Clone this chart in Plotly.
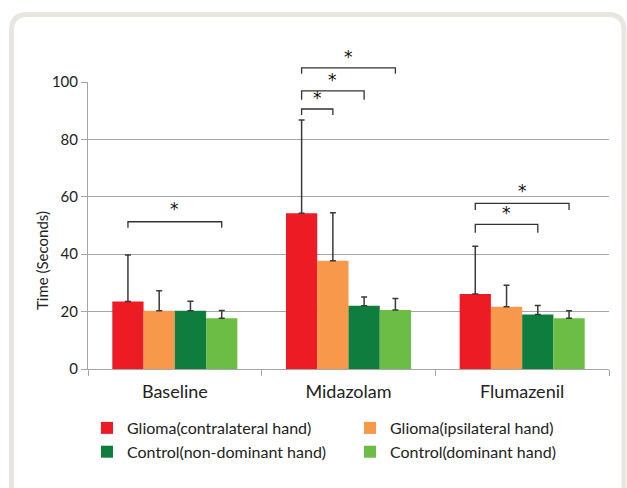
import plotly.graph_objects as go

# ---------------- data ----------------
categories = ["Baseline", "Midazolam", "Flumazenil"]
series_names = [
    "Glioma(contralateral hand)",
    "Glioma(ipsilateral hand)",
    "Control(non-dominant hand)",
    "Control(dominant hand)",
]
series_colors = ["#ED1C24", "#F7984A", "#0E7D3E", "#6CBD45"]
glioma_contra = [23.5, 54.3, 26.1]
glioma_ipsi = [20.3, 37.7, 21.7]
control_nondom = [20.3, 22.0, 19.0]
control_dom = [17.7, 20.6, 17.7]
sd_glioma_contra = [16.2, 32.5, 16.7]
sd_glioma_ipsi = [7.0, 16.7, 7.5]
sd_control_nondom = [3.3, 3.1, 3.1]
sd_control_dom = [2.7, 4.0, 2.6]
y_ticks = [0, 20, 40, 60, 80, 100]
y_title = "Time (Seconds)"

# significance brackets: (category index, from series, to series, bracket level, leg level, star level)
brackets = [
    (0, 0, 3, 51.3, 49.2, 56.9),
    (1, 0, 1, 90.6, 88.5, 95.4),
    (1, 0, 2, 96.9, 93.8, 101.7),
    (1, 0, 3, 104.9, 102.9, 109.9),
    (2, 0, 2, 50.4, 47.5, 55.4),
    (2, 0, 3, 57.7, 55.4, 62.9),
]

values = [glioma_contra, glioma_ipsi, control_nondom, control_dom]
errors = [sd_glioma_contra, sd_glioma_ipsi, sd_control_nondom, sd_control_dom]

FONT = "Lato, 'Open Sans', sans-serif"
BARGAP = 0.28
N = len(series_names)
Y_MAX = 100

fig = go.Figure()
for name, col, v, e in zip(series_names, series_colors, values, errors):
    fig.add_trace(go.Bar(
        x=categories, y=v, name=name,
        marker=dict(color=col, line=dict(width=0)),
        error_y=dict(type="data", symmetric=False, array=e, arrayminus=[0] * len(e),
                     color="#3A3A3A", thickness=1.5, width=3),
    ))

ncat = len(categories)
def bar_center_paper(ci, si):
    xv = ci - 0.5 + BARGAP / 2 + (si + 0.5) * (1 - BARGAP) / N
    return (xv + 0.5) / ncat

def val_paper(v):
    return v / Y_MAX

W, H = 627, 488
ml, mr, mt, mb = 88, 18, 82, 119
pw, ph = W - ml - mr, H - mt - mb
def px(x):
    return (x - ml) / pw
def py(y):
    return (H - mb - y) / ph

shapes = []
annotations = []
line_style = dict(color="#333333", width=1.3)
for ci, s0, s1, lvl, leg, star in brackets:
    x0 = bar_center_paper(ci, s0)
    x1 = bar_center_paper(ci, s1)
    y = val_paper(lvl)
    yl = val_paper(leg)
    shapes.append(dict(type="path", xref="paper", yref="paper",
                       path=f"M{x0},{yl} L{x0},{y} L{x1},{y} L{x1},{yl}",
                       line=line_style, layer="above"))
    annotations.append(dict(xref="paper", yref="paper", x=(x0 + x1) / 2, y=val_paper(star),
                            text="*", showarrow=False,
                            font=dict(size=17, color="#111111", family="DejaVu Sans"),
                            xanchor="center", yanchor="middle", yshift=-3))

# y-axis title (placed like the original, level with the lower part of the axis)
annotations.append(dict(xref="paper", yref="paper", x=px(42), y=py(261), text=y_title,
                        textangle=-90, showarrow=False, xanchor="center", yanchor="middle",
                        font=dict(size=15, family=FONT, color="#222222")))

# card frame (rounded border around the chart)
L, T, R, B, rad = 11.5, 14.5, 624, 520, 16
card = (f"M{px(L)},{py(B)} L{px(L)},{py(T + rad)} Q{px(L)},{py(T)} {px(L + rad)},{py(T)} "
        f"L{px(R - rad)},{py(T)} Q{px(R)},{py(T)} {px(R)},{py(T + rad)} L{px(R)},{py(B)}")
shapes.append(dict(type="path", xref="paper", yref="paper", path=card,
                   line=dict(color="#E9E6DF", width=5), layer="below"))

fig.update_layout(
    width=W, height=H,
    margin=dict(l=ml, r=mr, t=mt, b=mb, autoexpand=False),
    paper_bgcolor="white", plot_bgcolor="white",
    barmode="group", bargap=BARGAP, bargroupgap=0,
    font=dict(family=FONT, size=16, color="#222222"),
    shapes=shapes, annotations=annotations,
    showlegend=True,
    legend=dict(orientation="h", x=px(87), xanchor="left", y=py(411), yanchor="top",
                entrywidth=218, entrywidthmode="pixels", traceorder="normal",
                font=dict(size=16, family=FONT, color="#222222"),
                itemclick=False, tracegroupgap=0, bgcolor="rgba(0,0,0,0)"),
    xaxis=dict(type="category", showgrid=False, showline=True, linecolor="#A6A6A6", linewidth=1,
               ticks="outside", tickson="boundaries", ticklen=6, tickcolor="#A6A6A6",
               ticklabelstandoff=6,
               tickfont=dict(size=18, family=FONT, color="#222222"), range=[-0.5, 2.5],
               fixedrange=True),
    yaxis=dict(range=[0, Y_MAX], tickvals=y_ticks, showgrid=True, gridcolor="#A6A6A6", gridwidth=1,
               showline=True, linecolor="#A6A6A6", linewidth=1, ticks="outside", ticklen=6,
               tickcolor="#A6A6A6", zeroline=False, ticklabelstandoff=0,
               tickfont=dict(size=15, family=FONT, color="#222222"),
               fixedrange=True),
)

fig.write_html("out.html", config={"displayModeBar": False},
               post_script="document.body.style.margin='0';")
